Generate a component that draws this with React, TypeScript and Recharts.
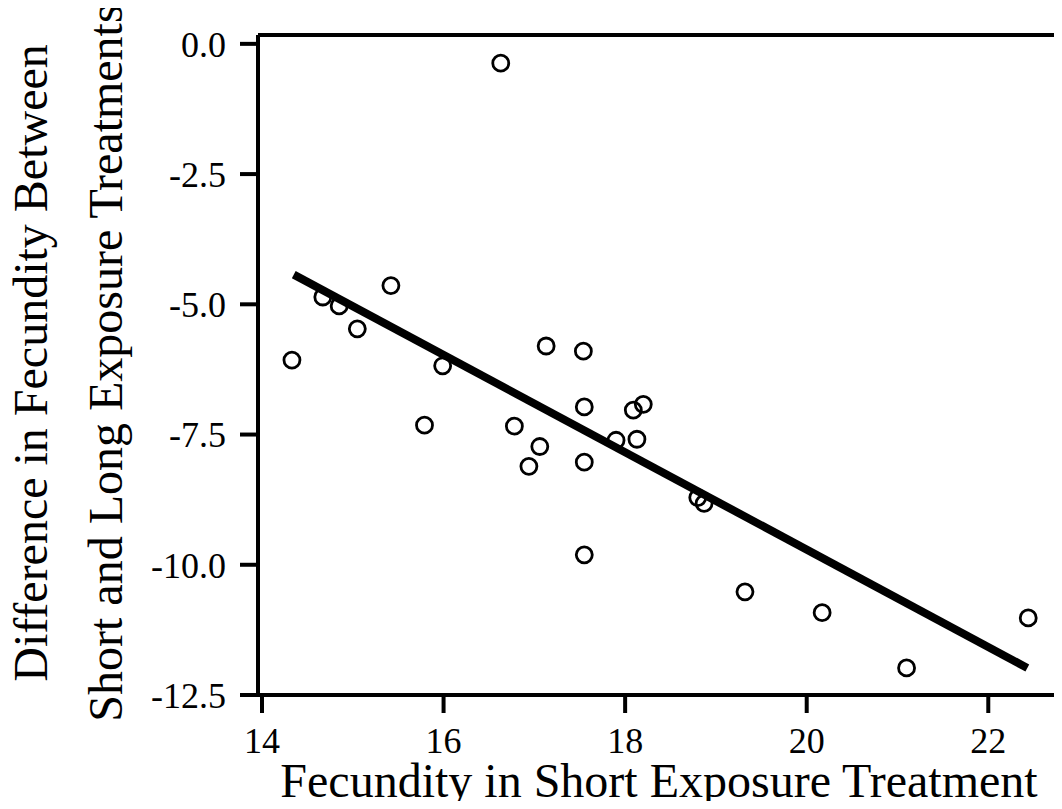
import React from 'react';
import { ScatterChart, Scatter, XAxis, YAxis, ReferenceLine } from 'recharts';

const shortFecundity = [
  16.63, 14.33, 14.67, 14.85, 15.05, 15.42, 15.99, 15.79, 16.78, 16.94, 17.06, 17.13, 17.54,
  17.55, 17.55, 17.55, 17.9, 18.13, 18.09, 18.2, 18.8, 18.87, 19.32, 20.17, 21.1, 22.44,
];
const fecundityDiff = [
  -0.37, -6.07, -4.86, -5.03, -5.47, -4.64, -6.18, -7.32, -7.34, -8.11, -7.73, -5.8, -5.9,
  -6.97, -8.03, -9.81, -7.61, -7.59, -7.03, -6.92, -8.71, -8.82, -10.52, -10.92, -11.98, -11.02,
];

// fitted line end points
const fitX = [14.35, 22.43];
const fitY = [-4.43, -11.98];

const xTicks = [14, 16, 18, 20, 22];
const yTicks = [0, -2.5, -5, -7.5, -10, -12.5];

const points = shortFecundity.map((x, i) => ({ x, y: fecundityDiff[i] }));
const fitLine = fitX.map((x, i) => ({ x, y: fitY[i] }));

const FONT = '"Liberation Serif", "Times New Roman", serif';
const X_DOMAIN: [number, number] = [13.956, 22.79];
const Y_DOMAIN: [number, number] = [-12.5, 0.17];

const Ring = (props: any) => (
  <circle cx={props.cx} cy={props.cy} r={8} fill="none" stroke="#000" strokeWidth={2.8} />
);

const YTitle = (props: any) => {
  const vb = props.viewBox || {};
  const cy = vb.y + vb.height / 2 - 2;
  const x1 = 47;
  const x2 = 122;
  return (
    <g fontFamily={FONT} fontSize={48} fill="#000">
      <text x={x1} y={cy} textAnchor="middle" transform={`rotate(-90, ${x1}, ${cy})`}>
        Difference in Fecundity Between
      </text>
      <text x={x2} y={cy} textAnchor="middle" transform={`rotate(-90, ${x2}, ${cy})`}>
        Short and Long Exposure Treatments
      </text>
    </g>
  );
};

const XTitle = (props: any) => {
  const vb = props.viewBox || {};
  const cx = vb.x + vb.width / 2;
  return (
    <text x={cx} y={797} textAnchor="middle" fontFamily={FONT} fontSize={48} fill="#000">
      Fecundity in Short Exposure Treatment
    </text>
  );
};

export default function App() {
  return (
    <div style={{ margin: -8, background: '#fff' }}>
      <ScatterChart width={1062} height={809} margin={{ top: 35, right: 2, bottom: 0, left: 0 }}>
        <XAxis
          dataKey="x"
          type="number"
          domain={X_DOMAIN}
          allowDataOverflow
          ticks={xTicks}
          height={114}
          tickSize={18}
          tickMargin={14}
          axisLine={{ stroke: '#000', strokeWidth: 4 }}
          tickLine={{ stroke: '#000', strokeWidth: 4 }}
          tick={{ fill: '#000', fontSize: 36, fontFamily: FONT }}
          label={<XTitle />}
        />
        <YAxis
          dataKey="y"
          type="number"
          domain={Y_DOMAIN}
          allowDataOverflow
          ticks={yTicks}
          width={258}
          tickSize={18}
          tickMargin={14}
          tickFormatter={(v: number) => v.toFixed(1)}
          axisLine={{ stroke: '#000', strokeWidth: 4 }}
          tickLine={{ stroke: '#000', strokeWidth: 4 }}
          tick={{ fill: '#000', fontSize: 36, fontFamily: FONT }}
          label={<YTitle />}
        />
        {/* frame: heavy top edge, faint right edge */}
        <ReferenceLine y={Y_DOMAIN[1]} stroke="#000" strokeWidth={4} />
        <ReferenceLine x={X_DOMAIN[1]} stroke="#bbb" strokeWidth={1.5} />
        <Scatter
          data={fitLine}
          line={{ stroke: '#000', strokeWidth: 8 }}
          shape={() => <g />}
          isAnimationActive={false}
        />
        <Scatter data={points} shape={<Ring />} isAnimationActive={false} />
      </ScatterChart>
    </div>
  );
}
